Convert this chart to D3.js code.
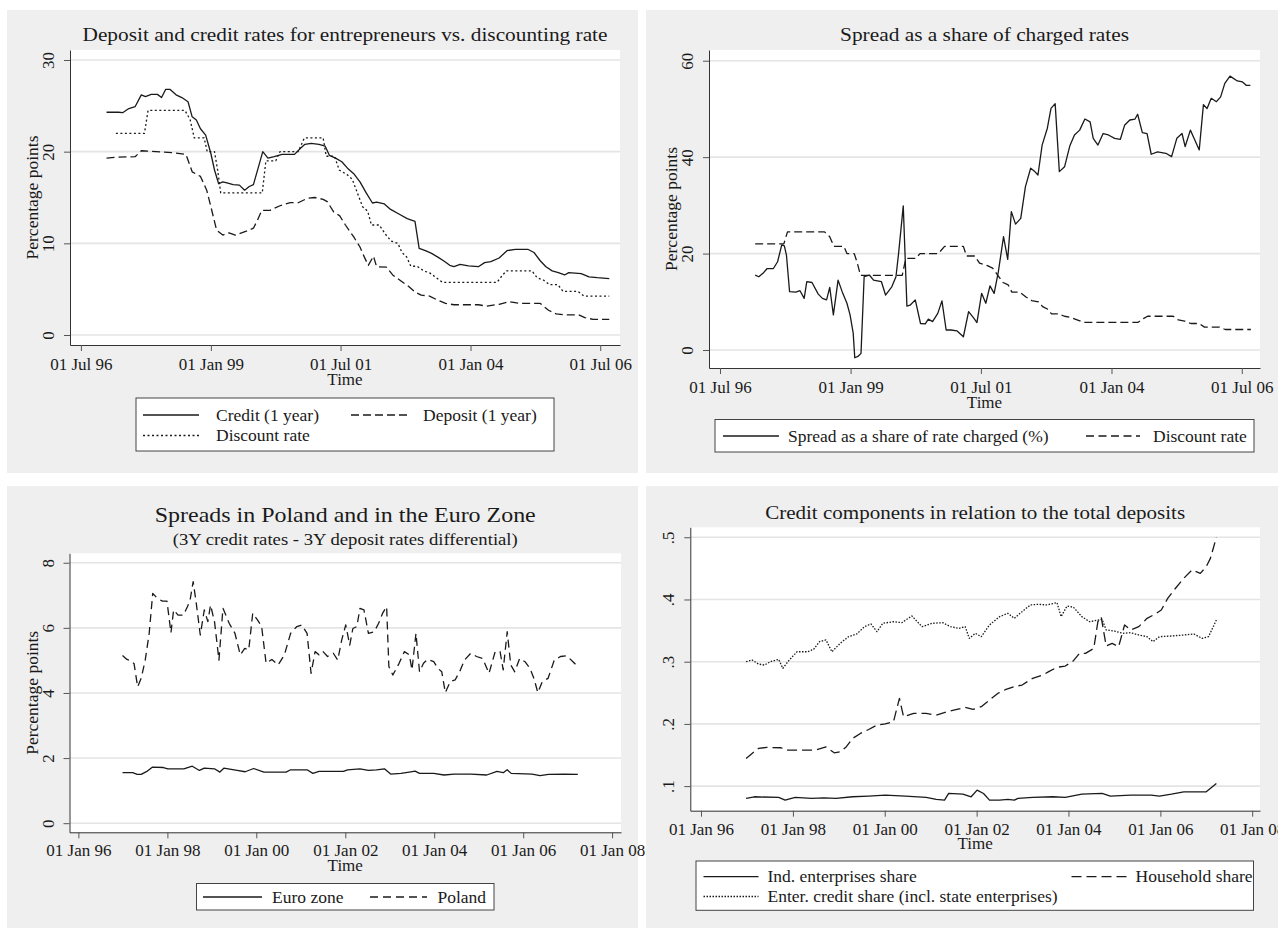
<!DOCTYPE html>
<html>
<head>
<meta charset="utf-8">
<script src="https://cdn.jsdelivr.net/npm/d3@7"></script>
<style>
    body { margin: 0; background: #fff; }
    text { font-family: "Liberation Serif", "Times New Roman", serif; fill: #1a1a1a; }
</style>
</head>
<body>
<svg id="chart" width="1278" height="928"></svg>
<script>
// ---- data (decimal year, value) ----
const creditRate = [[1996.99,24.3],[1997.22,24.3],[1997.30,24.25],[1997.42,24.7],[1997.54,24.9],[1997.66,26.2],[1997.74,26.0],[1997.85,26.25],[1997.97,26.25],[1998.05,25.9],[1998.13,26.8],[1998.21,26.8],[1998.33,26.2],[1998.44,25.9],[1998.56,25.45],[1998.64,23.8],[1998.72,23.45],[1998.80,22.5],[1998.90,21.8],[1999.00,19.8],[1999.07,18.0],[1999.15,16.5],[1999.23,16.7],[1999.31,16.6],[1999.43,16.4],[1999.55,16.35],[1999.65,15.8],[1999.74,16.2],[1999.82,16.4],[1999.92,18.4],[2000.00,20.0],[2000.10,19.3],[2000.22,19.45],[2000.37,19.7],[2000.61,19.7],[2000.73,20.4],[2000.81,20.8],[2000.93,20.9],[2001.08,20.8],[2001.20,20.6],[2001.28,19.6],[2001.40,19.3],[2001.52,18.9],[2001.63,18.2],[2001.75,17.6],[2001.87,16.7],[2001.99,15.5],[2002.11,14.4],[2002.19,14.5],[2002.34,14.3],[2002.46,13.7],[2002.62,13.2],[2002.78,12.7],[2002.93,12.4],[2003.01,9.45],[2003.13,9.2],[2003.25,8.9],[2003.37,8.5],[2003.48,8.1],[2003.60,7.6],[2003.68,7.45],[2003.80,7.7],[2003.96,7.55],[2004.15,7.45],[2004.27,7.9],[2004.39,8.0],[2004.55,8.4],[2004.70,9.2],[2004.86,9.35],[2005.10,9.35],[2005.22,9.0],[2005.34,8.1],[2005.45,7.45],[2005.57,7.0],[2005.69,6.8],[2005.81,6.55],[2005.89,6.8],[2006.13,6.7],[2006.28,6.35],[2006.44,6.25],[2006.67,6.15]];

const depositRate = [[1996.99,19.3],[1997.22,19.4],[1997.54,19.45],[1997.66,20.1],[1998.25,19.9],[1998.52,19.7],[1998.64,17.8],[1998.80,17.3],[1998.92,15.8],[1999.00,14.0],[1999.11,11.45],[1999.23,10.9],[1999.35,11.15],[1999.47,10.9],[1999.67,11.3],[1999.82,11.65],[1999.90,12.55],[1999.98,13.6],[2000.14,13.6],[2000.33,14.1],[2000.53,14.45],[2000.69,14.45],[2000.85,14.9],[2001.00,15.0],[2001.16,14.8],[2001.24,14.55],[2001.36,13.45],[2001.48,13.0],[2001.59,12.0],[2001.75,10.7],[2001.87,9.6],[2001.95,8.55],[2002.03,7.6],[2002.13,8.6],[2002.19,7.45],[2002.38,7.4],[2002.50,6.55],[2002.66,5.9],[2002.81,5.3],[2002.93,4.7],[2003.05,4.35],[2003.21,4.25],[2003.37,3.8],[2003.52,3.45],[2003.68,3.3],[2004.15,3.3],[2004.31,3.15],[2004.55,3.35],[2004.74,3.65],[2004.93,3.45],[2005.34,3.45],[2005.50,2.7],[2005.65,2.3],[2005.81,2.2],[2006.08,2.2],[2006.20,1.9],[2006.36,1.7],[2006.67,1.7]];

const discountRate = [[1997.17,22.0],[1997.72,22.0],[1997.79,24.5],[1998.50,24.5],[1998.60,23.5],[1998.68,21.5],[1998.87,21.5],[1998.93,20.0],[1999.07,20.0],[1999.13,18.0],[1999.19,15.5],[1999.99,15.5],[2000.06,19.0],[2000.25,19.0],[2000.33,20.0],[2000.68,20.0],[2000.80,21.5],[2001.16,21.5],[2001.22,19.5],[2001.38,19.5],[2001.47,18.0],[2001.62,17.5],[2001.72,17.0],[2001.82,15.5],[2001.92,14.0],[2002.02,13.5],[2002.09,12.0],[2002.24,12.0],[2002.36,11.0],[2002.47,10.25],[2002.60,10.0],[2002.68,9.0],[2002.77,8.5],[2002.85,7.5],[2002.97,7.5],[2003.10,7.0],[2003.22,6.75],[2003.34,6.25],[2003.46,5.75],[2004.51,5.75],[2004.61,6.5],[2004.69,7.0],[2005.18,7.0],[2005.28,6.25],[2005.40,6.0],[2005.52,5.5],[2005.68,5.5],[2005.78,4.75],[2006.07,4.75],[2006.18,4.25],[2006.67,4.25]];

const spreadShare = [[1997.17,15.55],[1997.24,15.2],[1997.32,15.9],[1997.40,16.9],[1997.52,16.9],[1997.60,18.3],[1997.68,21.8],[1997.73,21.6],[1997.77,19.7],[1997.83,12.1],[1997.95,12.0],[1998.03,12.3],[1998.11,10.7],[1998.16,14.2],[1998.26,14.0],[1998.38,11.6],[1998.46,10.7],[1998.54,10.4],[1998.60,13.0],[1998.67,7.3],[1998.76,14.5],[1998.85,11.75],[1998.93,9.7],[1998.99,7.3],[1999.05,3.5],[1999.08,-1.6],[1999.15,-1.25],[1999.20,-0.7],[1999.26,15.2],[1999.36,15.55],[1999.44,14.5],[1999.59,14.2],[1999.67,11.4],[1999.79,13.1],[1999.87,15.2],[1999.92,20.0],[2000.01,29.9],[2000.08,9.1],[2000.14,9.3],[2000.24,10.4],[2000.34,5.5],[2000.43,5.4],[2000.49,6.4],[2000.57,5.9],[2000.67,7.6],[2000.75,10.2],[2000.83,4.15],[2000.92,4.15],[2001.04,3.95],[2001.16,2.75],[2001.26,7.95],[2001.36,6.6],[2001.42,5.7],[2001.51,11.75],[2001.59,9.7],[2001.67,13.3],[2001.75,11.75],[2001.83,16.2],[2001.93,23.5],[2002.01,18.8],[2002.08,28.7],[2002.16,26.1],[2002.26,27.3],[2002.35,33.9],[2002.45,37.7],[2002.53,37.0],[2002.59,36.3],[2002.67,42.5],[2002.77,46.0],[2002.84,50.1],[2002.92,51.1],[2003.00,37.0],[2003.10,38.0],[2003.20,42.3],[2003.29,44.6],[2003.39,45.6],[2003.49,47.9],[2003.59,47.3],[2003.65,43.9],[2003.74,42.5],[2003.84,44.9],[2003.94,44.6],[2004.06,43.9],[2004.17,43.7],[2004.25,46.6],[2004.35,47.7],[2004.45,47.9],[2004.50,48.9],[2004.59,45.1],[2004.68,44.9],[2004.76,40.6],[2004.88,41.1],[2005.04,40.8],[2005.15,40.1],[2005.25,43.9],[2005.35,44.9],[2005.41,42.2],[2005.51,45.6],[2005.58,43.9],[2005.68,41.5],[2005.76,50.9],[2005.83,50.1],[2005.91,52.2],[2006.01,51.5],[2006.09,52.5],[2006.17,55.3],[2006.27,56.8],[2006.41,55.8],[2006.51,55.6],[2006.58,54.9],[2006.66,54.9]];

const polandSpread = [[1996.99,5.15],[1997.09,5.03],[1997.18,4.99],[1997.25,4.9],[1997.33,4.19],[1997.41,4.45],[1997.50,5.0],[1997.59,5.83],[1997.67,7.06],[1997.78,6.9],[1997.89,6.82],[1997.99,6.82],[1998.08,5.85],[1998.14,6.55],[1998.24,6.39],[1998.36,6.39],[1998.45,6.65],[1998.51,6.85],[1998.58,7.42],[1998.65,6.75],[1998.74,5.78],[1998.83,6.55],[1998.91,6.19],[1998.97,6.7],[1999.06,6.19],[1999.16,5.01],[1999.25,6.6],[1999.39,6.14],[1999.52,5.83],[1999.64,5.17],[1999.74,5.37],[1999.83,5.32],[1999.92,6.45],[2000.03,6.24],[2000.12,6.04],[2000.22,4.91],[2000.35,5.03],[2000.49,4.86],[2000.63,5.17],[2000.77,5.83],[2000.91,6.04],[2001.02,6.09],[2001.14,5.83],[2001.23,4.6],[2001.32,5.27],[2001.41,5.17],[2001.50,5.27],[2001.60,5.12],[2001.73,5.22],[2001.83,5.01],[2001.92,5.63],[2002.01,6.09],[2002.10,5.47],[2002.17,5.98],[2002.26,6.04],[2002.33,6.6],[2002.42,6.55],[2002.52,5.83],[2002.65,5.88],[2002.75,6.14],[2002.84,6.45],[2002.93,6.65],[2002.98,4.81],[2003.07,4.55],[2003.21,4.91],[2003.33,5.27],[2003.44,5.17],[2003.50,4.71],[2003.59,5.83],[2003.67,4.65],[2003.76,4.91],[2003.85,5.03],[2003.99,4.96],[2004.08,4.76],[2004.17,4.65],[2004.25,4.01],[2004.36,4.35],[2004.47,4.4],[2004.59,4.71],[2004.68,5.01],[2004.82,5.22],[2004.95,5.12],[2005.09,5.06],[2005.23,4.6],[2005.37,5.27],[2005.48,5.27],[2005.55,4.71],[2005.64,5.88],[2005.72,4.86],[2005.81,4.65],[2005.92,5.06],[2006.04,4.96],[2006.15,4.76],[2006.24,4.45],[2006.33,4.01],[2006.43,4.35],[2006.56,4.45],[2006.70,5.01],[2006.84,5.12],[2006.98,5.14],[2007.12,4.96],[2007.23,4.81]];

const euroSpread = [[1996.99,1.55],[1997.22,1.55],[1997.32,1.5],[1997.41,1.5],[1997.55,1.6],[1997.66,1.72],[1997.91,1.71],[1998.01,1.67],[1998.37,1.67],[1998.56,1.75],[1998.72,1.62],[1998.83,1.69],[1999.06,1.67],[1999.18,1.57],[1999.27,1.69],[1999.57,1.62],[1999.75,1.58],[1999.94,1.68],[2000.17,1.57],[2000.67,1.57],[2000.77,1.64],[2001.14,1.64],[2001.27,1.53],[2001.41,1.59],[2001.96,1.59],[2002.05,1.64],[2002.33,1.67],[2002.52,1.62],[2002.70,1.64],[2002.88,1.67],[2003.02,1.51],[2003.25,1.53],[2003.44,1.57],[2003.57,1.6],[2003.67,1.53],[2003.99,1.53],[2004.22,1.48],[2004.45,1.51],[2004.82,1.51],[2005.18,1.48],[2005.41,1.59],[2005.55,1.55],[2005.64,1.64],[2005.73,1.53],[2006.20,1.51],[2006.38,1.46],[2006.57,1.5],[2006.93,1.51],[2007.23,1.5]];

const householdShare = [[1996.98,0.1445],[1997.11,0.1525],[1997.25,0.1606],[1997.43,0.1622],[1997.74,0.1617],[1997.87,0.158],[1998.05,0.158],[1998.23,0.158],[1998.49,0.158],[1998.72,0.163],[1998.90,0.1536],[1999.03,0.155],[1999.16,0.163],[1999.30,0.1767],[1999.47,0.1847],[1999.65,0.191],[1999.83,0.198],[2000.01,0.2],[2000.19,0.2035],[2000.32,0.241],[2000.41,0.2115],[2000.63,0.217],[2000.90,0.217],[2001.12,0.214],[2001.35,0.2196],[2001.57,0.2233],[2001.75,0.2265],[2001.92,0.2233],[2002.10,0.2276],[2002.28,0.2383],[2002.46,0.249],[2002.64,0.2555],[2002.82,0.26],[2002.99,0.2625],[2003.22,0.2732],[2003.44,0.2786],[2003.57,0.284],[2003.75,0.291],[2003.93,0.293],[2004.11,0.3016],[2004.24,0.3134],[2004.37,0.3134],[2004.55,0.3214],[2004.64,0.3643],[2004.71,0.3724],[2004.82,0.3252],[2004.95,0.3295],[2005.09,0.3241],[2005.22,0.359],[2005.35,0.351],[2005.53,0.3563],[2005.71,0.3697],[2005.89,0.3767],[2006.02,0.383],[2006.16,0.4019],[2006.33,0.418],[2006.51,0.434],[2006.69,0.4475],[2006.87,0.442],[2007.00,0.4528],[2007.09,0.466],[2007.22,0.5]];

const enterShare = [[1996.98,0.3],[1997.11,0.3027],[1997.25,0.2962],[1997.38,0.2946],[1997.51,0.3],[1997.69,0.3037],[1997.78,0.2893],[1997.92,0.3027],[1998.09,0.316],[1998.32,0.316],[1998.45,0.3198],[1998.58,0.3322],[1998.72,0.3349],[1998.85,0.316],[1999.03,0.3295],[1999.21,0.3402],[1999.39,0.3445],[1999.56,0.3563],[1999.70,0.3606],[1999.83,0.3483],[1999.96,0.3617],[2000.19,0.3643],[2000.37,0.3627],[2000.59,0.3735],[2000.81,0.3563],[2001.03,0.3617],[2001.26,0.3627],[2001.43,0.3563],[2001.61,0.3536],[2001.75,0.3563],[2001.84,0.3375],[2001.97,0.3456],[2002.10,0.3402],[2002.28,0.359],[2002.50,0.3724],[2002.68,0.3777],[2002.82,0.3697],[2002.99,0.3804],[2003.17,0.3912],[2003.35,0.3922],[2003.53,0.3912],[2003.75,0.3949],[2003.84,0.3724],[2003.97,0.3895],[2004.11,0.3874],[2004.29,0.3724],[2004.46,0.3643],[2004.73,0.3681],[2004.82,0.351],[2005.00,0.3493],[2005.18,0.3456],[2005.35,0.3467],[2005.53,0.3429],[2005.71,0.3402],[2005.84,0.3322],[2005.98,0.3402],[2006.24,0.3413],[2006.51,0.3429],[2006.73,0.3445],[2006.91,0.3375],[2007.05,0.3402],[2007.22,0.367]];

const indShare = [[1996.98,0.0802],[1997.16,0.0829],[1997.69,0.0818],[1997.83,0.0775],[1998.05,0.0818],[1998.41,0.0802],[1998.67,0.0812],[1998.94,0.0802],[1999.30,0.0829],[1999.65,0.0839],[2000.01,0.0855],[2000.45,0.0839],[2000.90,0.0818],[2001.12,0.0786],[2001.30,0.0775],[2001.39,0.0882],[2001.70,0.0871],[2001.88,0.0829],[2002.01,0.0936],[2002.15,0.0882],[2002.28,0.0775],[2002.50,0.0775],[2002.68,0.0786],[2002.82,0.0775],[2002.90,0.0802],[2003.22,0.0818],[2003.66,0.0829],[2003.93,0.0818],[2004.29,0.0871],[2004.73,0.0882],[2004.91,0.0839],[2005.35,0.0855],[2005.80,0.0855],[2005.98,0.0839],[2006.24,0.0871],[2006.51,0.0909],[2007.00,0.0909],[2007.22,0.1043]];

// tick values
const ticksHalfYears = [[1996,6],[1999,0],[2001,6],[2004,0],[2006,6]];
const ticksEvenYears = [1996, 1998, 2000, 2002, 2004, 2006, 2008];

// ---- helpers ----
const svg = d3.select("#chart");
const fmtDate = d3.timeFormat("%d %b %y");
const ink = "#1a1a1a";

function yearToDate(t) {
    const y = Math.floor(t);
    const d0 = new Date(y, 0, 1), d1 = new Date(y + 1, 0, 1);
    return new Date(+d0 + (t - y) * (d1 - d0));
}

function drawPanel(p) {
    const [L, T, R, B] = p.plot;

    svg.append("rect")
        .attr("x", p.bg[0]).attr("y", p.bg[1])
        .attr("width", p.bg[2] - p.bg[0]).attr("height", p.bg[3] - p.bg[1])
        .attr("fill", "#efefef");
    svg.append("rect")
        .attr("x", L).attr("y", T)
        .attr("width", R - L).attr("height", B - T)
        .attr("fill", "#fff");

    const x = d3.scaleTime().domain(p.xDomain.map(yearToDate)).range([L, R]);
    const y = d3.scaleLinear().domain(p.yDomain).range([B, T]);

    // grey y gridlines
    svg.append("g")
        .selectAll("line")
        .data(p.yTicks)
        .join("line")
        .attr("x1", L).attr("x2", R)
        .attr("y1", d => y(d)).attr("y2", d => y(d))
        .attr("stroke", "#e4e4e4")
        .attr("stroke-width", 1.6);

    // series
    const line = d3.line().x(d => x(yearToDate(d[0]))).y(d => y(d[1]));
    p.series.forEach(s => {
        svg.append("path")
            .datum(s.data)
            .attr("d", line)
            .attr("fill", "none")
            .attr("stroke", ink)
            .attr("stroke-width", 1.3)
            .attr("stroke-linejoin", "round")
            .attr("stroke-dasharray", s.dash);
    });

    // x axis
    const gx = svg.append("g")
        .attr("transform", `translate(0,${B})`)
        .call(d3.axisBottom(x).tickValues(p.xTicks).tickFormat(fmtDate).tickSize(6).tickSizeOuter(0))
        .attr("font-family", null).attr("font-size", null);
    gx.select(".domain").attr("stroke", "#333");
    gx.selectAll(".tick line").attr("stroke", "#555");
    gx.selectAll("text")
        .attr("y", p.tickGap).attr("dy", null)
        .attr("font-size", 17).attr("fill", ink);

    // y axis, labels turned like Stata
    const gy = svg.append("g")
        .attr("transform", `translate(${L},0)`)
        .call(d3.axisLeft(y).tickValues(p.yTicks).tickFormat(p.yFmt).tickSize(6).tickSizeOuter(0))
        .attr("font-family", null).attr("font-size", null);
    gy.select(".domain").attr("stroke", "#333");
    gy.selectAll(".tick line").attr("stroke", "#555");
    gy.selectAll("text")
        .attr("x", null).attr("dy", null)
        .attr("text-anchor", "middle")
        .attr("transform", "translate(-16,0) rotate(-90)")
        .attr("font-size", 17).attr("fill", ink);

    // titles
    p.titles.forEach(t => {
        svg.append("text")
            .attr("x", (L + R) / 2).attr("y", t.y)
            .attr("text-anchor", "middle")
            .attr("font-size", t.size)
            .attr("textLength", t.len)
            .attr("lengthAdjust", "spacingAndGlyphs")
            .text(t.text);
    });

    // axis titles
    svg.append("text")
        .attr("x", (L + R) / 2).attr("y", B + p.timeGap)
        .attr("text-anchor", "middle")
        .attr("font-size", 17)
        .text("Time");
    if (p.yTitle) {
        svg.append("text")
            .attr("transform", `translate(${L - 32},${(T + B) / 2}) rotate(-90)`)
            .attr("text-anchor", "middle")
            .attr("font-size", 17.5)
            .text(p.yTitle);
    }

    // legend
    const lg = p.legend;
    svg.append("rect")
        .attr("x", lg.box[0]).attr("y", lg.box[1])
        .attr("width", lg.box[2] - lg.box[0]).attr("height", lg.box[3] - lg.box[1])
        .attr("fill", "#fff").attr("stroke", "#444").attr("stroke-width", 1);
    lg.items.forEach(it => {
        svg.append("line")
            .attr("x1", it.x).attr("x2", it.x + it.len)
            .attr("y1", it.y).attr("y2", it.y)
            .attr("stroke", ink).attr("stroke-width", 1.3)
            .attr("stroke-dasharray", it.dash);
        svg.append("text")
            .attr("x", it.tx).attr("y", it.y + 5.5)
            .attr("font-size", 17.5)
            .text(it.label);
    });
}

const halfTicks = ticksHalfYears.map(([yy, m]) => new Date(yy, m, 1));
const evenTicks = ticksEvenYears.map(yy => new Date(yy, 0, 1));
const shortNum = d => d3.format(".1f")(d).replace(/^0/, "");

const panels = [
    {
        bg: [7, 10, 638, 473], plot: [70, 50, 620, 345],
        xDomain: [1996.288, 2006.877], yDomain: [-1.09, 31.09],
        xTicks: halfTicks, yTicks: [0, 10, 20, 30], yFmt: d3.format("d"),
        tickGap: 25, timeGap: 40,
        titles: [{text: "Deposit and credit rates for entrepreneurs vs. discounting rate", y: 40.5, size: 18.5, len: 525}],
        yTitle: "Percentage points",
        series: [
            {data: creditRate, dash: null},
            {data: depositRate, dash: "8,4"},
            {data: discountRate, dash: "2,2.5"}
        ],
        legend: {
            box: [136, 398, 554, 451],
            items: [
                {x: 143, y: 415, len: 56, tx: 216, dash: null, label: "Credit (1 year)"},
                {x: 351, y: 415, len: 58, tx: 423, dash: "8,4", label: "Deposit (1 year)"},
                {x: 143, y: 435.5, len: 57, tx: 216, dash: "2,2.5", label: "Discount rate"}
            ]
        }
    },
    {
        bg: [646, 10, 1278, 473], plot: [709, 50, 1260, 368],
        xDomain: [1996.287, 2006.845], yDomain: [-3.73, 62.22],
        xTicks: halfTicks, yTicks: [0, 20, 40, 60], yFmt: d3.format("d"),
        tickGap: 25, timeGap: 40,
        titles: [{text: "Spread as a share of charged rates", y: 41, size: 18.5, len: 289}],
        yTitle: "Percentage points",
        series: [
            {data: spreadShare, dash: null},
            {data: discountRate, dash: "8,4"}
        ],
        legend: {
            box: [715, 419.5, 1254, 452],
            items: [
                {x: 723, y: 436, len: 56, tx: 788, dash: null, label: "Spread as a share of rate charged (%)"},
                {x: 1086, y: 436, len: 54, tx: 1153, dash: "8,4.5", label: "Discount rate"}
            ]
        }
    },
    {
        bg: [7, 486, 638, 928], plot: [69.5, 553.3, 621, 832.3],
        xDomain: [1995.8, 2008.2], yDomain: [-0.28, 8.29],
        xTicks: evenTicks, yTicks: [0, 2, 4, 6, 8], yFmt: d3.format("d"),
        tickGap: 24, timeGap: 38.5,
        titles: [
            {text: "Spreads in Poland and in the Euro Zone", y: 522, size: 21, len: 381},
            {text: "(3Y credit rates - 3Y deposit rates differential)", y: 545.3, size: 17, len: 345}
        ],
        yTitle: "Percentage points",
        series: [
            {data: euroSpread, dash: null},
            {data: polandSpread, dash: "8,5"}
        ],
        legend: {
            box: [196.5, 883.5, 494, 910],
            items: [
                {x: 203, y: 897, len: 59, tx: 272, dash: null, label: "Euro zone"},
                {x: 370, y: 897, len: 57, tx: 437.5, dash: "8,5", label: "Poland"}
            ]
        }
    },
    {
        bg: [646, 486, 1278, 928], plot: [690.3, 527.3, 1260, 810.7],
        xDomain: [1995.767, 2008.17], yDomain: [0.0605, 0.516],
        xTicks: evenTicks, yTicks: [0.1, 0.2, 0.3, 0.4, 0.5], yFmt: shortNum,
        tickGap: 24, timeGap: 38,
        titles: [{text: "Credit components in relation to the total deposits", y: 519.3, size: 18.5, len: 420}],
        yTitle: null,
        series: [
            {data: indShare, dash: null},
            {data: householdShare, dash: "10,5"},
            {data: enterShare, dash: "1.5,1.5"}
        ],
        legend: {
            box: [696, 861, 1253.5, 910.3],
            items: [
                {x: 703.5, y: 876.7, len: 55, tx: 767.5, dash: null, label: "Ind. enterprises share"},
                {x: 1071.5, y: 876.7, len: 55, tx: 1135.5, dash: "10,5", label: "Household share"},
                {x: 703.5, y: 896.5, len: 55, tx: 767.5, dash: "1.5,1.5", label: "Enter. credit share (incl. state enterprises)"}
            ]
        }
    }
];

panels.forEach(drawPanel);
</script>
</body>
</html>
